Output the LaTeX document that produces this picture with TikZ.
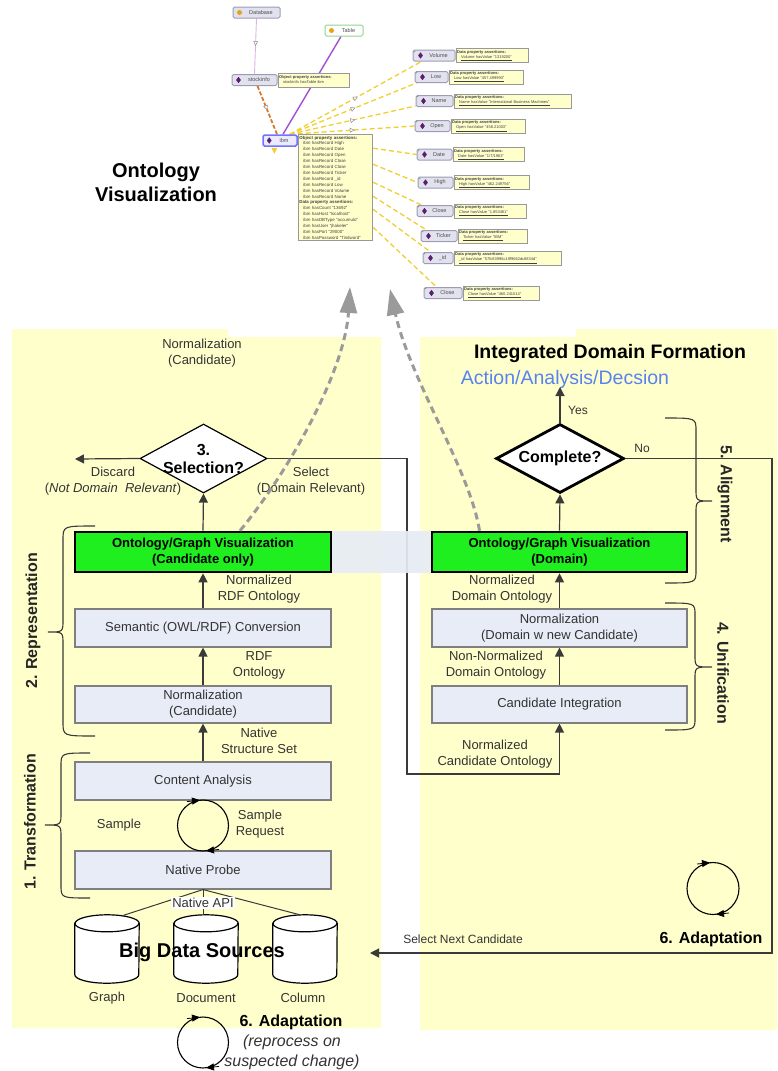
\documentclass[tikz,border=0pt]{standalone}
\usepackage{fontspec}
\setmainfont{Liberation Sans}
\usetikzlibrary{arrows.meta,shapes.geometric,decorations.markings}
\pgfdeclarelayer{background}
\pgfsetlayers{background,main}

\definecolor{panel}{HTML}{FFFFCC}
\definecolor{stepfill}{HTML}{E7ECF6}
\definecolor{stepedge}{HTML}{7F7F7F}
\definecolor{vizgreen}{HTML}{1FEF1F}
\definecolor{ink}{HTML}{333333}
\definecolor{flowink}{HTML}{3A3A3A}
\definecolor{bluetext}{HTML}{5882F0}
\definecolor{dashgray}{HTML}{9A9A9A}
\definecolor{bandblue}{HTML}{E6ECF4}
\definecolor{onfill}{HTML}{E2E2EE}
\definecolor{onedge}{HTML}{9C9CB4}
\definecolor{calfill}{HTML}{FFFFCC}
\definecolor{iconpurple}{HTML}{5C1F6E}
\definecolor{iconorange}{HTML}{E8A21A}
\definecolor{propyellow}{HTML}{F0CF2E}
\definecolor{proporange}{HTML}{D9772B}
\definecolor{proppurple}{HTML}{A24FD6}
\definecolor{proppink}{HTML}{DDB3E6}

\newcommand\fsz[2]{\fontsize{#1pt}{#2pt}\selectfont}

\tikzset{
  stepbox/.style={draw=stepedge, line width=1.1pt, fill=stepfill, minimum width=256pt,
    minimum height=38pt, inner sep=0pt, align=center, text=ink, font=\fsz{13}{16}},
  vizbox/.style={draw=black, line width=2.6pt, fill=vizgreen, minimum width=256pt,
    minimum height=40pt, inner sep=0pt, align=center, font=\bfseries\fsz{13}{16}},
  flowline/.style={draw=flowink, line width=1.2pt},
  flowarr/.style={flowline, -{Triangle[length=9pt,width=9pt]}},
  lbl/.style={align=center, text=ink, font=\fsz{13}{16}, inner sep=0pt},
  bracepath/.style={draw=flowink, line width=1.1pt},
  sidelabel/.style={font=\bfseries\fsz{16}{19}, text=black!85, inner sep=0pt},
  seldiamond/.style={diamond, draw=black, line width=1.2pt, fill=white, inner sep=0pt},
  compdiamond/.style={diamond, draw=black, line width=2.8pt, fill=white, inner sep=0pt},
  storebody/.style={minimum width=64pt, minimum height=68pt, inner sep=0pt},
  storeline/.style={draw=black, line width=1.2pt, fill=white},
  loopline/.style={draw=black, line width=1.1pt},
  looptip/.style={-{Triangle[length=8pt,width=7pt]}, draw=black, line width=0.8pt},
  vizarrow/.style={draw=dashgray, line width=3pt, dash pattern=on 7pt off 4.5pt,
    -{Triangle[length=26pt,width=17pt]}},
  onode/.style={draw=onedge, line width=1pt, fill=onfill, rounded corners=1.5pt,
    minimum height=11pt, inner sep=0pt, font=\fsz{5.5}{6}, text=black!70},
  ocall/.style={draw=black!40, line width=0.9pt, fill=calfill, inner sep=1.2pt, align=left,
    font=\fsz{4}{5}, text=black!75, anchor=west},
  dicon/.style={diamond, fill=iconpurple, inner sep=0pt, minimum width=5pt, minimum height=6.5pt},
  cicon/.style={circle, fill=iconorange, inner sep=0pt, minimum size=5pt},
  plusmark/.style={font=\fsz{4}{4}, inner sep=0pt, text=black!60},
  omark/.style={postaction={decorate}, decoration={markings, mark=at position #1 with
    {\draw[solid, line width=0.5pt, fill=white, draw=black!45] (2pt,0pt) -- (-2pt,2pt) -- (-2pt,-2pt) -- cycle;}}},
  yedge/.style={draw=propyellow, line width=1.3pt, dash pattern=on 5pt off 3pt},
}

% property node with its assertion callout
\newcommand\propnode[7]{%
  \node[onode, minimum width=#4pt] (#1) at (#2,#3) {\hspace*{9pt}#5};
  \node[dicon] at ([xshift=8pt]#1.west) {};
  \node[plusmark] at ([xshift=2.2pt,yshift=-2.4pt]#1.north west) {+};
  \node[ocall, text width=#6pt, minimum height=14pt] (#1c) at (#1.east)
    {\textbf{Data property assertions:}\\\hspace*{4pt}\underline{#7}};
}

% data store drawn as a cylinder around a named body node
\newcommand\datastore[3]{%
  \node[storebody] (#1) at (#2,#3) {};
  \filldraw[storeline] ([yshift=-8.5pt]#1.north west) -- ([yshift=8.5pt]#1.south west)
    arc[start angle=180, end angle=360, x radius=32pt, y radius=8.5pt]
    -- ([yshift=-8.5pt]#1.north east)
    arc[start angle=0, end angle=180, x radius=32pt, y radius=8.5pt] -- cycle;
  \draw[storeline, fill=none] ([yshift=-8.5pt]#1.north west)
    arc[start angle=180, end angle=360, x radius=32pt, y radius=8.5pt];
}

\begin{document}
\begin{tikzpicture}[x=1pt,y=-1pt]
\useasboundingbox (0,0) rectangle (777,1071);

% ---------- background panels ----------
\begin{pgfonlayer}{background}
  \fill[panel] (12,329) -- (228,329) -- (228,337) -- (381,337) -- (381,1028) -- (12,1028) -- cycle;
  \fill[panel] (420,337) -- (576,337) -- (576,329) -- (777,329) -- (777,1030) -- (420,1030) -- cycle;
\end{pgfonlayer}

% ---------- ontology graph ----------
\node[onode, minimum width=47pt] (db) at (256.5,12.5) {\hspace*{9pt}Database};
\node[cicon] at ([xshift=7pt]db.west) {};
\node[onode, minimum width=38pt, draw=green!45!gray!60, fill=white] (tbl) at (344,30.5) {\hspace*{9pt}Table};
\node[cicon] at ([xshift=7pt]tbl.west) {};
\node[onode, minimum width=45pt] (stk) at (254.5,80) {\hspace*{9pt}stockinfo};
\node[dicon] at ([xshift=7pt]stk.west) {};
\node[ocall, text width=69pt, minimum height=14pt] (stkc) at (stk.east)
  {\textbf{Object property assertions:}\\\hspace*{4pt}stockinfo hasTable ibm};
\node[onode, minimum width=34pt, draw=blue!55, line width=1.5pt, fill=blue!8] (ibm) at (280,140.5) {\hspace*{8pt}ibm};
\node[dicon] at ([xshift=7pt]ibm.west) {};
\node[ocall, anchor=north west, text width=72pt, font=\fsz{4.4}{5.9}] (ibmc) at (ibm.north east)
  {\textbf{Object property assertions:}\\
   \hspace*{4pt}ibm hasRecord High\\
   \hspace*{4pt}ibm hasRecord Date\\
   \hspace*{4pt}ibm hasRecord Open\\
   \hspace*{4pt}ibm hasRecord Close\\
   \hspace*{4pt}ibm hasRecord Close\\
   \hspace*{4pt}ibm hasRecord Ticker\\
   \hspace*{4pt}ibm hasRecord \_id\\
   \hspace*{4pt}ibm hasRecord Low\\
   \hspace*{4pt}ibm hasRecord Volume\\
   \hspace*{4pt}ibm hasRecord Name\\
   \textbf{Data property assertions:}\\
   \hspace*{4pt}ibm hasCount "13692"\\
   \hspace*{4pt}ibm hasHost "localhost"\\
   \hspace*{4pt}ibm hasDBType "accumulo"\\
   \hspace*{4pt}ibm hasUser "jhakeler"\\
   \hspace*{4pt}ibm hasPort "29000"\\
   \hspace*{4pt}ibm hasPassword "Tindword"};

\propnode{vol}{434}{55.5}{42}{Volume}{69.6}{Volume hasValue "1319200"}
\propnode{low}{431.5}{77}{33}{Low}{71.6}{Low hasValue "457.499993"}
\propnode{nam}{434.5}{101}{37}{Name}{114.6}{Name hasValue "International Business Machines"}
\propnode{opn}{432.5}{126}{35}{Open}{71.6}{Open hasValue "458.21003"}
\propnode{dat}{434.5}{154.5}{35}{Date}{68.6}{Date hasValue "1/7/1963"}
\propnode{hig}{435.5}{182.5}{35}{High}{72.6}{High hasValue "462.249756"}
\propnode{clo}{435}{211}{36}{Close}{69.6}{Close hasValue "1.853481"}
\propnode{tic}{439}{236}{36}{Ticker}{66.6}{Ticker hasValue "IBM"}
\propnode{oid}{438}{258}{30}{\_id}{104.6}{\_id hasValue "57fc83996c19f9662dc8834d"}
\propnode{clt}{443}{293}{38}{Close}{73.6}{Close hasValue "460.241014"}

\begin{pgfonlayer}{background}
  \draw[draw=proppink, line width=0.9pt, omark=0.45] (db.south) -- (stk.north);
  \draw[draw=proppurple, line width=1.4pt] ([xshift=-3pt]tbl.south) -- ([xshift=3pt]ibm.north);
  \draw[draw=proporange, line width=1.8pt, dash pattern=on 4pt off 2pt, omark=0.45] ([xshift=3pt]stk.south) -- ([xshift=-3pt]ibm.north);
  \draw[yedge, omark=0.5] ([xshift=-8pt]ibm.north east) -- ([xshift=9pt]vol.south west);
  \draw[yedge, omark=0.5] ([xshift=-8pt]ibm.north east) -- ([xshift=2pt]low.south west);
  \draw[yedge, omark=0.5] ([xshift=-8pt]ibm.north east) -- ([yshift=1pt]nam.south west);
  \draw[yedge, omark=0.5] ([xshift=-8pt]ibm.north east) -- (opn.west);
  \draw[yedge] ([yshift=-14pt]ibmc.north east) -- (dat.west);
  \draw[yedge] ([yshift=-30pt]ibmc.north east) -- (hig.west);
  \draw[yedge] ([yshift=-48pt]ibmc.north east) -- ([xshift=5pt]clo.north west);
  \draw[yedge] ([yshift=-62pt]ibmc.north east) -- ([xshift=6pt]tic.north west);
  \draw[yedge] ([yshift=-75pt]ibmc.north east) -- ([xshift=8pt]oid.north west);
  \draw[yedge] ([yshift=-93pt]ibmc.north east) -- ([xshift=13pt]clt.north west);
  \fill[propyellow] ([xshift=9pt,yshift=-1pt]ibm.south west) -- ++(6pt,0pt) -- ++(-3pt,-6pt) -- cycle;
\end{pgfonlayer}

\node[font=\bfseries\fsz{20}{24}, align=center, inner sep=0pt] (ovtitle) at (156,182) {Ontology\\Visualization};

% ---------- left column: candidate pipeline ----------
\node[lbl] (normcandtop) at (202,353) {Normalization\\(Candidate)};
\node[seldiamond, minimum width=127pt, minimum height=69pt] (sel) at (203.5,458.5) {};
\node[font=\bfseries\fsz{16}{18}, align=center, inner sep=0pt] at (sel) {3.\\Selection?};
\node[vizbox] (vizL) at (203,552) {Ontology/Graph Visualization\\(Candidate only)};
\node[stepbox] (sem) at (203,628) {Semantic (OWL/RDF) Conversion};
\node[stepbox, minimum height=37pt] (normL) at (203,704.5) {Normalization\\(Candidate)};
\node[stepbox] (content) at (203,781) {Content Analysis};
\node[stepbox] (probe) at (203,870) {Native Probe};

\datastore{graph}{107}{949}
\datastore{docu}{206}{949}
\datastore{colm}{305}{949}

\coordinate (discardend) at (75,459);
\draw[flowarr] (sel.west) -- (discardend);
\draw[flowarr] (vizL.north) -- (sel.south);
\draw[flowarr] (sem.north) -- (vizL.south);
\draw[flowarr] (normL.north) -- (sem.south);
\draw[flowarr] (content.north) -- (normL.south);

\draw[draw=flowink, line width=1pt] (probe.south) -- ([xshift=15pt,yshift=-1pt]graph.north);
\draw[draw=flowink, line width=1pt] (probe.south) -- ([xshift=-3pt]docu.north);
\draw[draw=flowink, line width=1pt] (probe.south) -- ([xshift=-5pt]colm.north);
\node[lbl, fill=white, inner sep=1pt] (napi) at (203,903) {Native API};

\node[font=\bfseries\fsz{20}{24}, inner sep=0pt] (bigdata) at (202,952) {Big Data Sources};
\node[lbl] at (107,998) {Graph};
\node[lbl] at (206,998) {Document};
\node[lbl] at (303,998) {Column};

\node[lbl] at (113,481) {Discard\\(\textit{Not Domain\ \ Relevant})};
\node[lbl] at (311,481) {Select\\(Domain Relevant)};
\node[lbl] at (259,589) {Normalized\\RDF Ontology};
\node[lbl] at (259,665) {RDF\\Ontology};
\node[lbl] at (259,741) {Native\\Structure Set};
\node[lbl] at (119,825) {Sample};
\node[lbl] at (260,824.5) {Sample\\Request};

% sampling loop
\coordinate (sampleloop) at (203,825.5);
\draw[loopline] (sampleloop) circle[radius=25.5pt];
\draw[looptip] (187,801.6) -- (200,800.2);
\draw[looptip] (219,849.4) -- (206,850.8);

% adaptation loop (sources)
\coordinate (adaptloopL) at (203,1042.5);
\draw[loopline] (adaptloopL) circle[radius=25.5pt];
\draw[looptip] (187,1018.6) -- (200,1017.2);
\draw[looptip] (219,1066.4) -- (206,1067.8);
\node[font=\bfseries\fsz{16}{19}, inner sep=0pt] at (291,1022) {6. Adaptation};
\node[font=\itshape\fsz{16}{19.5}, text=ink, align=center, inner sep=0pt] at (292,1052.5) {(reprocess on\\suspected change)};

% braces
\draw[bracepath] (95,526) .. controls (63,526) .. (63,540) -- (63,620) .. controls (63,632) .. (48,632)
  .. controls (63,632) .. (63,644) -- (63,722) .. controls (63,736) .. (95,736);
\node[sidelabel, rotate=90] at (33,621) {2. Representation};
\draw[bracepath] (90,753) .. controls (61,753) .. (61,766) -- (61,813) .. controls (61,825) .. (45,825)
  .. controls (61,825) .. (61,837) -- (61,885) .. controls (61,898) .. (90,898);
\node[sidelabel, rotate=90] at (30,822) {1. Transformation};

% ---------- right column: domain integration ----------
\node[font=\bfseries\fsz{19.5}{23}, inner sep=0pt] (idf) at (610,353) {Integrated Domain Formation};
\node[font=\fsz{19.5}{23}, text=bluetext, inner sep=0pt] (aad) at (565,379) {Action/Analysis/Decsion};
\coordinate (yesend) at (560,387);
\node[compdiamond, minimum width=128pt, minimum height=69pt] (comp) at (560,458.5) {};
\node[font=\bfseries\fsz{16}{18}, inner sep=0pt] at (comp) {Complete?};
\node[vizbox, minimum width=255pt] (vizR) at (559.5,552) {Ontology/Graph Visualization\\(Domain)};
\node[stepbox, minimum width=255pt] (normR) at (559.5,628) {Normalization\\(Domain w new Candidate)};
\node[stepbox, minimum width=255pt, minimum height=37pt] (integ) at (559.5,704.5) {Candidate Integration};

\draw[flowarr] (comp.north) -- (yesend);
\draw[flowarr] (vizR.north) -- (comp.south);
\draw[flowarr] (normR.north) -- (vizR.south);
\draw[flowarr] (integ.north) -- (normR.south);

\node[lbl, font=\fsz{12}{14}] at (578,410) {Yes};
\node[lbl, font=\fsz{12}{14}] at (642,448) {No};
\node[lbl] at (502,589) {Normalized\\Domain Ontology};
\node[lbl] at (496,665) {Non-Normalized\\Domain Ontology};
\node[lbl] at (495,754) {Normalized\\Candidate Ontology};

% selected candidate goes to integration
\coordinate (selbend) at (407,774);
\draw[flowarr] (sel.east) -| (selbend) -| (integ.south);

% incomplete domain: select the next candidate
\coordinate (nobend) at (772,953);
\coordinate (nextin) at (370,953);
\draw[flowarr] (comp.east) -| (nobend) -- (nextin);
\node[lbl, font=\fsz{12}{14}] at (463,939) {Select Next Candidate};

% link band between the two visualization boxes
\fill[bandblue, opacity=0.92] (vizL.north east) rectangle (vizR.south west);

% adaptation loop (domain)
\coordinate (adaptloopR) at (713,888.5);
\draw[loopline] (adaptloopR) circle[radius=26pt];
\draw[looptip] (697,864) -- (710,862.7);
\draw[looptip] (729,913) -- (716,914.3);
\node[font=\bfseries\fsz{16}{19}, inner sep=0pt] at (711,939) {6. Adaptation};

% braces
\draw[bracepath] (665,418) .. controls (696,418) .. (696,431) -- (696,489) .. controls (696,501) .. (712,501)
  .. controls (696,501) .. (696,513) -- (696,570) .. controls (696,583) .. (665,583);
\node[sidelabel, rotate=-90] at (725,494) {5. Alignment};
\draw[bracepath] (665,603) .. controls (695,603) .. (695,615) -- (695,655) .. controls (695,667) .. (712,667)
  .. controls (695,667) .. (695,679) -- (695,718) .. controls (695,730) .. (665,730);
\node[sidelabel, rotate=-90] at (723,673) {4. Unification};

% ---------- links from the visualizations up to the ontology view ----------
\coordinate (vizinL) at (350,287);
\coordinate (vizinR) at (390,289);
\draw[vizarrow] ([xshift=37pt]vizL.north) .. controls (290,470) and (345,370) .. (vizinL);
\draw[vizarrow] ([xshift=-80pt]vizR.north) .. controls (470,470) and (410,380) .. (vizinR);

\end{tikzpicture}
\end{document}
